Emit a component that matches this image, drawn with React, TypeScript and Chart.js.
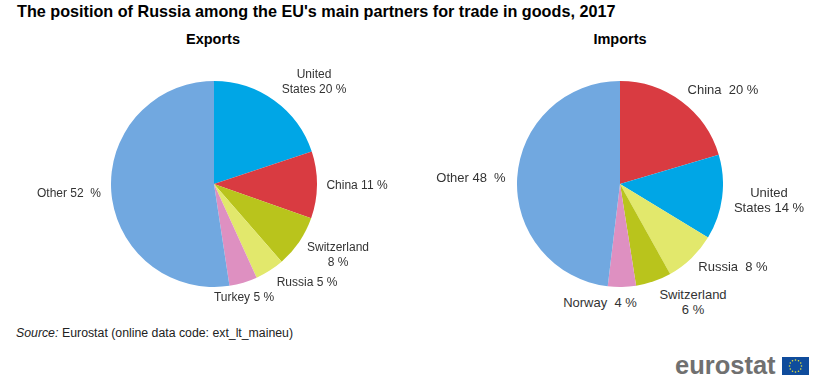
import React, { useEffect, useRef } from "react";
import { Chart, registerables } from "chart.js";

Chart.register(...registerables);

const FONT = '"Liberation Sans", Arial, sans-serif';
const TITLE = "The position of Russia among the EU's main partners for trade in goods, 2017";

const exportCategories = ["United States", "China", "Switzerland", "Russia", "Turkey", "Other"];
const exportValues = [19.9, 10.5, 8.2, 4.6, 4.4, 52.4];
const exportColors = ["#00A6E6", "#D93B41", "#B9C41C", "#E2E86C", "#DE90C1", "#71A8E0"];

const importCategories = ["China", "United States", "Russia", "Switzerland", "Norway", "Other"];
const importValues = [20.4, 13.3, 8.2, 5.6, 4.4, 48.1];
const importColors = ["#D93B41", "#00A6E6", "#E2E86C", "#B9C41C", "#DE90C1", "#71A8E0"];

const exportLabels: [string, number, number][] = [
  ["United\nStates 20 %", 314, 75],
  ["China 11 %", 357, 186],
  ["Switzerland\n8 %", 338, 248],
  ["Russia 5 %", 307, 283],
  ["Turkey 5 %", 244, 298],
  ["Other 52  %", 69, 194],
];
const importLabels: [string, number, number][] = [
  ["China  20 %", 723, 91],
  ["United\nStates 14 %", 769, 194],
  ["Russia  8 %", 733, 268],
  ["Switzerland\n6 %", 693, 296],
  ["Norway  4 %", 600, 304],
  ["Other 48  %", 471, 179],
];

function Pie({ left, values, labels, colors }: { left: number; values: number[]; labels: string[]; colors: string[] }) {
  const ref = useRef<HTMLCanvasElement>(null);
  useEffect(() => {
    const chart = new Chart(ref.current!, {
      type: "pie",
      data: { labels, datasets: [{ data: values, backgroundColor: colors, borderWidth: 0 }] },
      options: {
        responsive: false,
        animation: false,
        layout: { padding: 0 },
        plugins: { legend: { display: false }, tooltip: { enabled: false } },
      },
    });
    return () => chart.destroy();
  }, []);
  return (
    <canvas
      ref={ref}
      width={206}
      height={206}
      style={{ position: "absolute", left, top: 81, width: 206, height: 206 }}
    />
  );
}

function Label({ text, x, y, size }: { text: string; x: number; y: number; size: number }) {
  return (
    <div
      style={{
        position: "absolute",
        left: x - 100,
        top: y - 8,
        width: 200,
        textAlign: "center",
        whiteSpace: "pre",
        font: `${size}px/14.5px ${FONT}`,
        color: "#333",
      }}
    >
      {text}
    </div>
  );
}

function Flag() {
  const stars = Array.from({ length: 12 }, (_, i) => i);
  return (
    <svg width={27} height={18} style={{ position: "absolute", left: 782, top: 357 }}>
      <rect width={27} height={18} fill="#0F4C9C" />
      {stars.map((i) => (
        <circle
          key={i}
          cx={13.5 + 6 * Math.cos((i * Math.PI) / 6)}
          cy={9 + 6 * Math.sin((i * Math.PI) / 6)}
          r={0.8}
          fill="#E8E33A"
        />
      ))}
    </svg>
  );
}

export default function App() {
  useEffect(() => {
    document.body.style.margin = "0";
  }, []);
  return (
    <div style={{ position: "relative", width: 827, height: 389, background: "#fff", overflow: "hidden", fontFamily: FONT }}>
      <div style={{ position: "absolute", left: 17, top: 2, whiteSpace: "nowrap", font: `bold 16.2px/18px ${FONT}`, color: "#000" }}>{TITLE}</div>
      <div style={{ position: "absolute", left: 113, width: 200, top: 31, textAlign: "center", font: `bold 14.5px/16px ${FONT}`, color: "#000" }}>Exports</div>
      <div style={{ position: "absolute", left: 520, width: 200, top: 31, textAlign: "center", font: `bold 14.5px/16px ${FONT}`, color: "#000" }}>Imports</div>
      <Pie left={111} values={exportValues} labels={exportCategories} colors={exportColors} />
      <Pie left={517} values={importValues} labels={importCategories} colors={importColors} />
      {exportLabels.map(([t, x, y]) => <Label key={t} text={t} x={x} y={y} size={12} />)}
      {importLabels.map(([t, x, y]) => <Label key={t} text={t} x={x} y={y} size={13} />)}
      <div style={{ position: "absolute", left: 16, top: 326, whiteSpace: "nowrap", font: `12.3px/14px ${FONT}`, color: "#222" }}>
        <i>Source:</i>
        <span style={{ position: "absolute", left: 46 }}>Eurostat (online data code: ext_lt_maineu)</span>
      </div>
      <div style={{ position: "absolute", left: 675, top: 350, whiteSpace: "nowrap", font: `bold 25.5px/30px ${FONT}`, color: "#707070" }}>eurostat</div>
      <Flag />
    </div>
  );
}
